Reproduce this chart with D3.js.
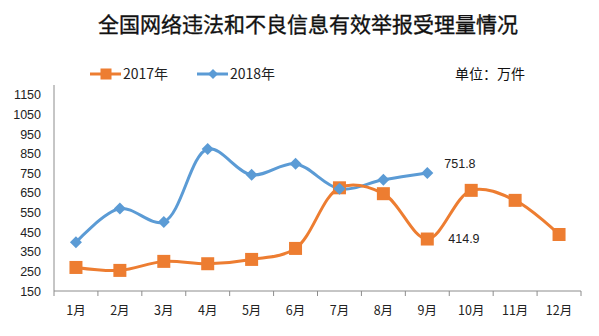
<!DOCTYPE html>
<html>
<head>
<meta charset="utf-8">
<script src="https://cdn.jsdelivr.net/npm/d3@7/dist/d3.min.js"></script>
<style>
  html, body { margin: 0; padding: 0; background: #fff; }
  svg { display: block; }
</style>
</head>
<body>
<svg id="chart" width="599" height="336"></svg>
<script>
// Monthly accepted valid reports (unit: 10k)
const months = ["1月","2月","3月","4月","5月","6月","7月","8月","9月","10月","11月","12月"];
const values2017 = [270, 255, 301, 289, 311, 367, 676, 646, 414.9, 663, 612, 438];
const values2018 = [398, 570, 502, 874, 742, 798, 671, 717, 751.8];
const yTicks = [150, 250, 350, 450, 550, 650, 750, 850, 950, 1050, 1150];
const seriesNames = ["2017年", "2018年"];

const svg = d3.select("#chart");
const plotL = 54, plotR = 581, plotT = 85, plotB = 291;

const x = d3.scaleBand().domain(months).range([plotL, plotR]);
const y = d3.scaleLinear().domain([150, 1200]).range([plotB, plotT]);

const orange = "#ED7D31", blue = "#5B9BD5", axisColor = "#8c8c8c";
const numFont = "'Liberation Sans', Arial, sans-serif";
const cjkFont = "'Noto Sans CJK SC', sans-serif";

// Title
svg.append("text")
  .attr("x", 308).attr("y", 32)
  .attr("text-anchor", "middle")
  .attr("font-family", cjkFont)
  .attr("font-size", 21)
  .attr("fill", "#111")
  .attr("stroke", "#111")
  .attr("stroke-width", 0.35)
  .text("全国网络违法和不良信息有效举报受理量情况");

// Y axis: line plus labels, no tick marks
const yAxis = svg.append("g")
  .attr("transform", `translate(${plotL},0)`)
  .call(d3.axisLeft(y).tickValues(yTicks).tickFormat(d3.format("d")).tickSize(0).tickPadding(13));
yAxis.select(".domain").attr("stroke", axisColor).attr("d", `M0,${plotT}V${plotB}`);
yAxis.selectAll("text").attr("font-family", numFont).attr("font-size", 12.5).attr("fill", "#222");

// X axis with ticks at band boundaries
const xAxis = svg.append("g")
  .attr("transform", `translate(0,${plotB})`)
  .call(d3.axisBottom(x).tickSize(0).tickPadding(15));
xAxis.select(".domain").attr("stroke", axisColor).attr("d", `M${plotL},0H${plotR}`);
xAxis.selectAll("text").attr("font-family", cjkFont).attr("font-size", 12.5).attr("fill", "#222");
const bounds = months.map(m => x(m)).concat([plotR]);
svg.append("g").selectAll("line").data(bounds).join("line")
  .attr("x1", d => d).attr("x2", d => d)
  .attr("y1", plotB).attr("y2", plotB + 5)
  .attr("stroke", axisColor).attr("stroke-width", 1);

const cx = (i) => x(months[i]) + x.bandwidth() / 2;
const line = d3.line()
  .x((d, i) => cx(i))
  .y(d => y(d))
  .curve(d3.curveCatmullRom.alpha(0.5));

// 2018 series
svg.append("path").datum(values2018)
  .attr("d", line).attr("fill", "none")
  .attr("stroke", blue).attr("stroke-width", 3).attr("stroke-linecap", "round");

// 2017 series
svg.append("path").datum(values2017)
  .attr("d", line).attr("fill", "none")
  .attr("stroke", orange).attr("stroke-width", 3).attr("stroke-linecap", "round");

// Markers
const sq = 13;
svg.append("g").selectAll("rect").data(values2017).join("rect")
  .attr("x", (d, i) => cx(i) - sq / 2)
  .attr("y", d => y(d) - sq / 2)
  .attr("width", sq).attr("height", sq)
  .attr("fill", orange);

const dm = 6;
svg.append("g").selectAll("path").data(values2018).join("path")
  .attr("d", (d, i) => {
    const px = cx(i), py = y(d);
    return `M${px},${py - dm}L${px + dm},${py}L${px},${py + dm}L${px - dm},${py}Z`;
  })
  .attr("fill", blue);

// Value labels on the September points
svg.append("text")
  .attr("x", cx(8) + 17).attr("y", y(values2018[8]) - 5)
  .attr("font-family", numFont).attr("font-size", 12.5).attr("fill", "#222")
  .text(values2018[8].toFixed(1));
svg.append("text")
  .attr("x", cx(8) + 21).attr("y", y(values2017[8]) + 4)
  .attr("font-family", numFont).attr("font-size", 12.5).attr("fill", "#222")
  .text(values2017[8].toFixed(1));

// Legend
const legend = svg.append("g");
const legendItems = [
  { name: seriesNames[0], color: orange, x: 90, shape: "square" },
  { name: seriesNames[1], color: blue, x: 197, shape: "diamond" }
];
legendItems.forEach(it => {
  const ly = 74;
  legend.append("line")
    .attr("x1", it.x).attr("x2", it.x + 31)
    .attr("y1", ly).attr("y2", ly)
    .attr("stroke", it.color).attr("stroke-width", 3);
  const mx = it.x + 16;
  if (it.shape === "square") {
    legend.append("rect").attr("x", mx - 5.5).attr("y", ly - 5.5)
      .attr("width", 11).attr("height", 11).attr("fill", it.color);
  } else {
    legend.append("path")
      .attr("d", `M${mx},${ly - 5}L${mx + 5},${ly}L${mx},${ly + 5}L${mx - 5},${ly}Z`)
      .attr("fill", it.color);
  }
  legend.append("text")
    .attr("x", it.x + 33).attr("y", ly + 5)
    .attr("font-family", cjkFont).attr("font-size", 14).attr("fill", "#222")
    .text(it.name);
});

// Unit note
svg.append("text")
  .attr("x", 455).attr("y", 79)
  .attr("font-family", cjkFont).attr("font-size", 14).attr("fill", "#111")
  .text("单位：万件");
</script>
</body>
</html>
